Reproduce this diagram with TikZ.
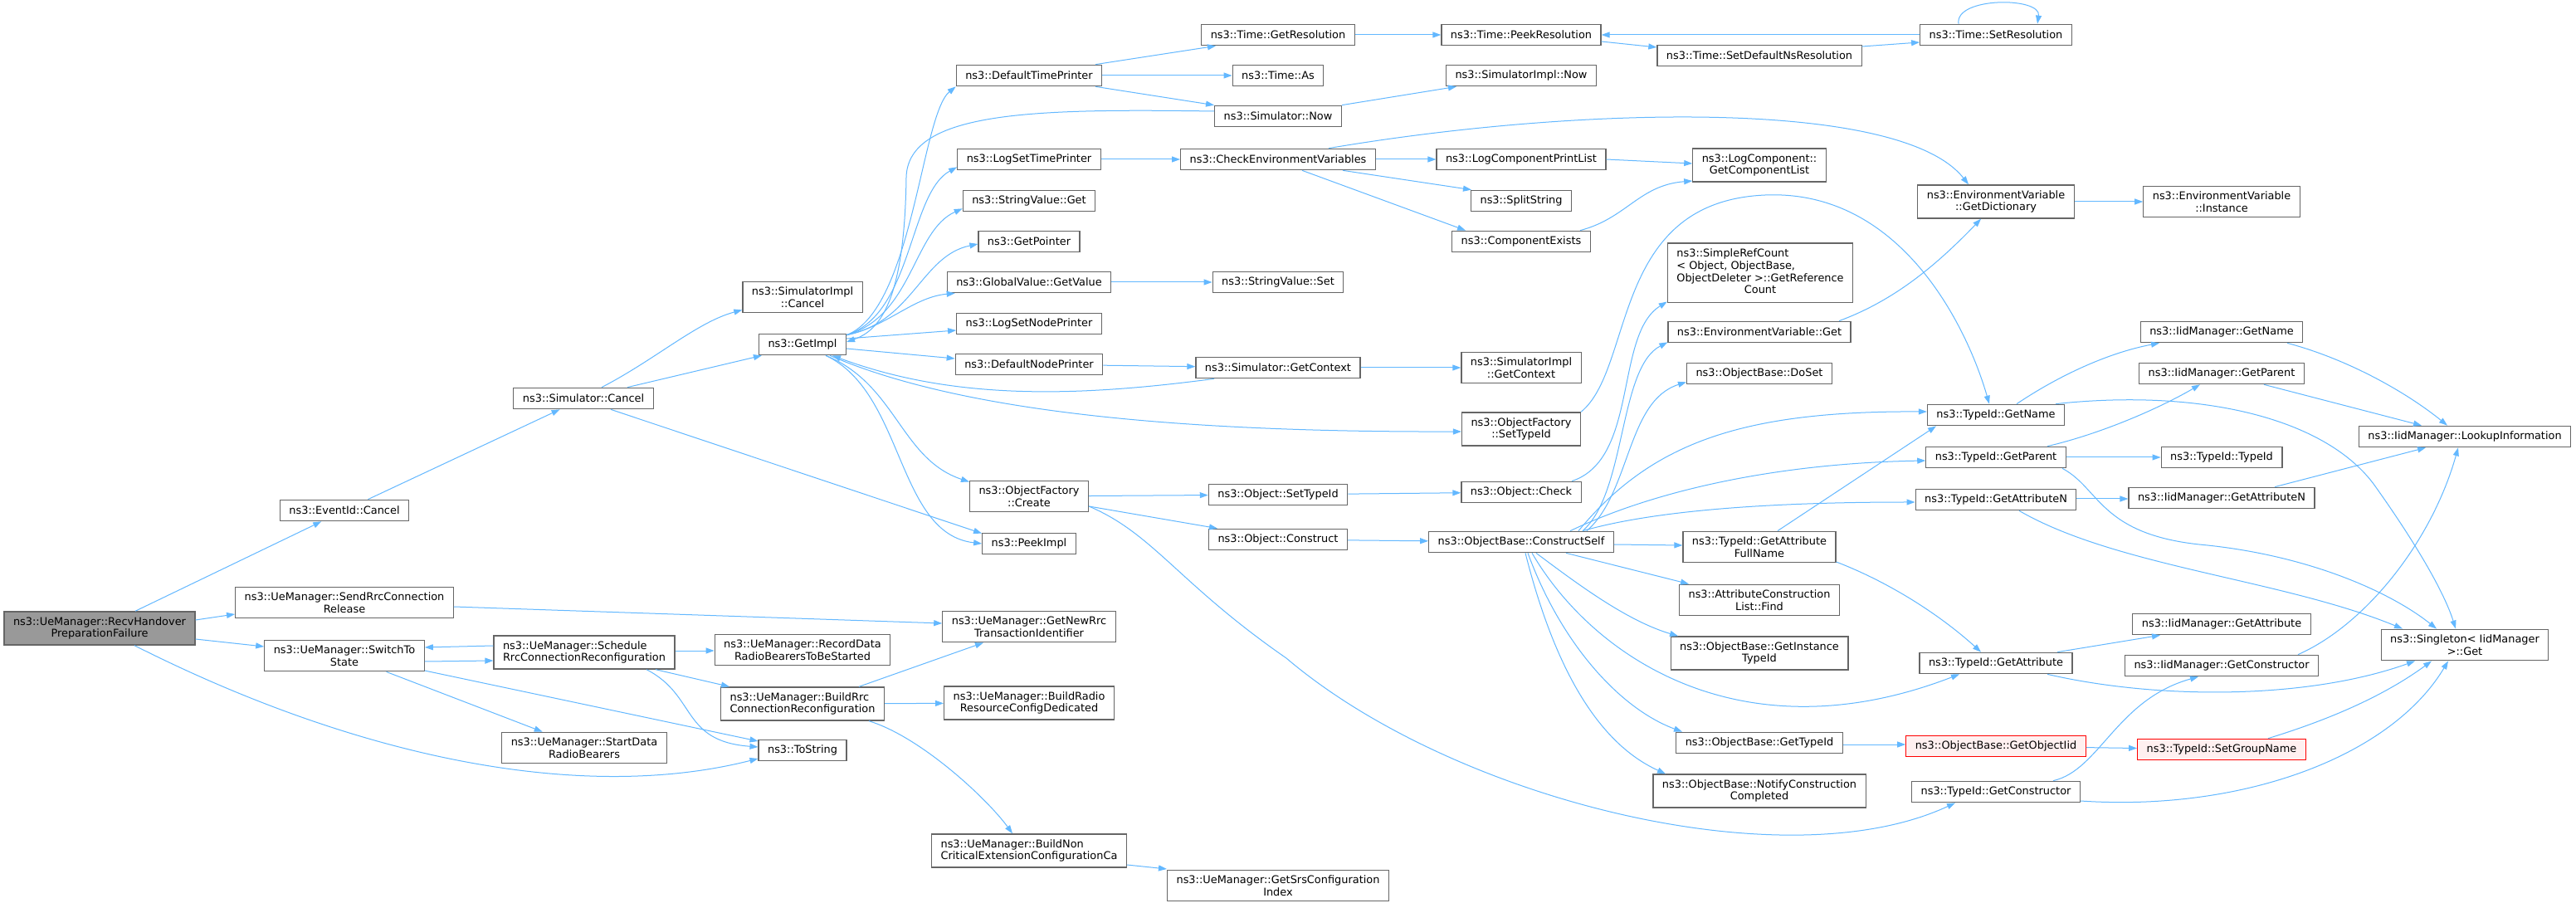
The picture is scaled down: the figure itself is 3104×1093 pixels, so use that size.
\documentclass[tikz,border=0pt]{standalone}
\usepackage{fontspec}
\setmainfont{DejaVu Sans}
\usetikzlibrary{arrows.meta}
\definecolor{callblue}{RGB}{99,184,255}
\definecolor{boxgray}{RGB}{102,102,102}
\definecolor{rootgray}{RGB}{153,153,153}
\definecolor{hotfill}{RGB}{255,240,240}

\begin{document}
\begin{tikzpicture}[x=1pt, y=1pt, font=\fontsize{12.9}{14.7}\selectfont,
  fn/.style={draw=boxgray, line width=1.2pt, fill=white, inner xsep=11pt, inner ysep=6.5pt, minimum height=25.5pt, align=center},
  rootfn/.style={fn, fill=rootgray},
  hotfn/.style={fn, draw=red, fill=hotfill},
  callarrow/.style={draw=callblue, line width=1pt, -{Triangle[length=10pt,width=7pt]}}]
  \fill[white] (0,0) rectangle (3104,1093);
  \useasboundingbox (0,0) rectangle (3104,1093);

  % Caller and UeManager side
  \node[rootfn] (recv) at (120,336) {ns3::UeManager::RecvHandover\\PreparationFailure};
  \node[fn] (evcancel) at (415,478) {ns3::EventId::Cancel};
  \node[fn] (sendrel) at (415,367) {ns3::UeManager::SendRrcConnection\\Release};
  \node[fn] (switchst) at (415,303) {ns3::UeManager::SwitchTo\\State};
  \node[fn] (simcancel) at (703,613) {ns3::Simulator::Cancel};
  \node[fn, align=left] (schedrrc) at (704,307) {ns3::UeManager::Schedule\\RrcConnectionReconfiguration};
  \node[fn] (startdrb) at (704,192) {ns3::UeManager::StartData\\RadioBearers};
  \node[fn] (implcancel) at (967,735) {ns3::SimulatorImpl\\::Cancel};
  \node[fn] (getimpl) at (967,678) {ns3::GetImpl};
  \node[fn] (recorddrb) at (967,310) {ns3::UeManager::RecordData\\RadioBearersToBeStarted};
  \node[fn, align=left] (buildrrc) at (967,245) {ns3::UeManager::BuildRrc\\ConnectionReconfiguration};
  \node[fn] (tostring) at (967,189) {ns3::ToString};

  % GetImpl callees
  \node[fn] (deftime) at (1240,1002) {ns3::DefaultTimePrinter};
  \node[fn] (logtime) at (1240,901) {ns3::LogSetTimePrinter};
  \node[fn] (strget) at (1240,851) {ns3::StringValue::Get};
  \node[fn] (getptr) at (1240,802) {ns3::GetPointer};
  \node[fn] (gvget) at (1240,753) {ns3::GlobalValue::GetValue};
  \node[fn] (lognode) at (1240,703) {ns3::LogSetNodePrinter};
  \node[fn] (defnode) at (1240,654) {ns3::DefaultNodePrinter};
  \node[fn] (ofcreate) at (1240,495) {ns3::ObjectFactory\\::Create};
  \node[fn] (peekimpl) at (1240,438) {ns3::PeekImpl};
  \node[fn] (newtid) at (1240,338) {ns3::UeManager::GetNewRrc\\TransactionIdentifier};
  \node[fn] (buildradio) at (1240,246) {ns3::UeManager::BuildRadio\\ResourceConfigDedicated};
  \node[fn, align=left] (buildnon) at (1240,68) {ns3::UeManager::BuildNon\\CriticalExtensionConfigurationCa};

  \node[fn] (getres) at (1540,1051) {ns3::Time::GetResolution};
  \node[fn] (timeas) at (1540,1002) {ns3::Time::As};
  \node[fn] (simnow) at (1540,953) {ns3::Simulator::Now};
  \node[fn] (checkenv) at (1540,901) {ns3::CheckEnvironmentVariables};
  \node[fn] (strset) at (1540,753) {ns3::StringValue::Set};
  \node[fn] (simctx) at (1540,650) {ns3::Simulator::GetContext};
  \node[fn] (objsettid) at (1540,497) {ns3::Object::SetTypeId};
  \node[fn] (objconstr) at (1540,443) {ns3::Object::Construct};
  \node[fn] (srsidx) at (1540,26) {ns3::UeManager::GetSrsConfiguration\\Index};

  \node[fn] (peekres) at (1833,1051) {ns3::Time::PeekResolution};
  \node[fn] (implnow) at (1833,1002) {ns3::SimulatorImpl::Now};
  \node[fn] (logprint) at (1833,901) {ns3::LogComponentPrintList};
  \node[fn] (split) at (1833,851) {ns3::SplitString};
  \node[fn] (compexists) at (1833,802) {ns3::ComponentExists};
  \node[fn] (implctx) at (1833,650) {ns3::SimulatorImpl\\::GetContext};
  \node[fn] (ofsettid) at (1833,576) {ns3::ObjectFactory\\::SetTypeId};
  \node[fn] (objcheck) at (1833,500) {ns3::Object::Check};
  \node[fn] (constrself) at (1833,440) {ns3::ObjectBase::ConstructSelf};

  % ObjectBase and environment
  \node[fn] (setdefns) at (2120,1026) {ns3::Time::SetDefaultNsResolution};
  \node[fn] (complist) at (2120,894) {ns3::LogComponent::\\GetComponentList};
  \node[fn] (refcount) at (2121,764) {\begin{tabular}{@{}c@{}}\multicolumn{1}{@{}l@{}}{ns3::SimpleRefCount}\\ \multicolumn{1}{@{}l@{}}{< Object, ObjectBase,}\\ ObjectDeleter >::GetReference\\ Count\end{tabular}};
  \node[fn] (envget) at (2120,693) {ns3::EnvironmentVariable::Get};
  \node[fn] (doset) at (2120,643) {ns3::ObjectBase::DoSet};
  \node[fn] (attrfull) at (2120,434) {ns3::TypeId::GetAttribute\\FullName};
  \node[fn] (attrfind) at (2120,370) {ns3::AttributeConstruction\\List::Find};
  \node[fn] (insttid) at (2120,306) {ns3::ObjectBase::GetInstance\\TypeId};
  \node[fn] (obgettid) at (2120,198) {ns3::ObjectBase::GetTypeId};
  \node[fn] (notify) at (2120,140) {ns3::ObjectBase::NotifyConstruction\\Completed};

  \node[fn] (setres) at (2405,1051) {ns3::Time::SetResolution};
  \node[fn] (getdict) at (2405,850) {ns3::EnvironmentVariable\\::GetDictionary};
  \node[fn] (tidname) at (2405,593) {ns3::TypeId::GetName};
  \node[fn] (tidparent) at (2405,542) {ns3::TypeId::GetParent};
  \node[fn] (tidattrn) at (2405,491) {ns3::TypeId::GetAttributeN};
  \node[fn] (tidattr) at (2405,294) {ns3::TypeId::GetAttribute};
  \node[hotfn] (objiid) at (2405,194) {ns3::ObjectBase::GetObjectIid};
  \node[fn] (tidctor) at (2405,139) {ns3::TypeId::GetConstructor};

  % IidManager side
  \node[fn] (envinst) at (2677,850) {ns3::EnvironmentVariable\\::Instance};
  \node[fn] (iidname) at (2677,693) {ns3::IidManager::GetName};
  \node[fn] (iidparent) at (2677,643) {ns3::IidManager::GetParent};
  \node[fn] (tidtid) at (2677,542) {ns3::TypeId::TypeId};
  \node[fn] (iidattrn) at (2677,493) {ns3::IidManager::GetAttributeN};
  \node[fn] (iidattr) at (2677,341) {ns3::IidManager::GetAttribute};
  \node[fn] (iidctor) at (2677,291) {ns3::IidManager::GetConstructor};
  \node[hotfn] (setgroup) at (2677,190) {ns3::TypeId::SetGroupName};
  \node[fn] (lookup) at (2970,567) {ns3::IidManager::LookupInformation};
  \node[fn] (singleton) at (2970,316) {ns3::Singleton< IidManager\\>::Get};

  % Calls from the caller
  \draw[callarrow] (recv) -- (evcancel);
  \draw[callarrow] ([yshift=10pt]recv.east) -- ([yshift=-14pt]sendrel.west);
  \draw[callarrow] ([yshift=-13pt]recv.east) -- ([yshift=11pt]switchst.west);
  \draw[callarrow] ([xshift=42pt]recv.south) .. controls (430,180) and (700,125) .. ([yshift=-10pt]tostring.west);
  \draw[callarrow] (evcancel) -- (simcancel);
  \draw[callarrow] ([xshift=22pt]simcancel.north) .. controls (790,660) and (840,705) .. ([yshift=4pt]implcancel.south west);
  \draw[callarrow] ([xshift=53pt]simcancel.north) -- ([xshift=4pt]getimpl.south west);
  \draw[callarrow] ([xshift=33pt]simcancel.south) -- ([yshift=-1pt]peekimpl.north west);

  % UeManager calls
  \draw[callarrow] ([yshift=-5pt]sendrel.east) -- ([yshift=4pt]newtid.west);
  \draw[callarrow] ([yshift=8pt]schedrrc.west) -- ([yshift=10pt]switchst.east);
  \draw[callarrow] ([yshift=-7pt]switchst.east) -- ([yshift=-10pt]schedrrc.west);
  \draw[callarrow] (switchst) -- (startdrb);
  \draw[callarrow] ([yshift=-18pt]switchst.east) -- ([yshift=11pt]tostring.west);
  \draw[callarrow] ([yshift=2pt]schedrrc.east) -- ([yshift=-1pt]recorddrb.west);
  \draw[callarrow] ([xshift=86pt]schedrrc.south) -- ([xshift=-88pt]buildrrc.north);
  \draw[callarrow] ([xshift=75pt]schedrrc.south) .. controls (840,255) and (820,200) .. ([yshift=4pt]tostring.west);
  \draw[callarrow] ([xshift=68pt]buildrrc.north) -- ([xshift=-55pt]newtid.south);
  \draw[callarrow] (buildrrc) -- (buildradio);
  \draw[callarrow] ([xshift=80pt]buildrrc.south) .. controls (1110,205) and (1190,130) .. ([xshift=-20pt]buildnon.north);
  \draw[callarrow] ([yshift=-17pt]buildnon.east) -- ([yshift=20pt]srsidx.west);

  % GetImpl fan
  \draw[callarrow] ([yshift=-2pt]getimpl.north east) .. controls (1100,720) and (1110,955) .. (deftime.south west);
  \draw[callarrow] ([yshift=-2pt]getimpl.north east) .. controls (1100,715) and (1095,860) .. ([yshift=4pt]logtime.south west);
  \draw[callarrow] ([yshift=-2pt]getimpl.north east) .. controls (1100,712) and (1100,815) .. ([yshift=4pt]strget.south west);
  \draw[callarrow] ([yshift=-2pt]getimpl.north east) .. controls (1100,705) and (1110,785) .. ([yshift=-3pt]getptr.west);
  \draw[callarrow] ([yshift=-2pt]getimpl.north east) .. controls (1070,700) and (1100,735) .. ([xshift=10pt]gvget.south west);
  \draw[callarrow] ([yshift=7pt]getimpl.east) -- ([yshift=-8pt]lognode.west);
  \draw[callarrow] ([yshift=-5pt]getimpl.east) -- ([yshift=7pt]defnode.west);
  \draw[callarrow] ([xshift=28pt]getimpl.south) .. controls (1080,630) and (1085,540) .. ([yshift=-2pt]ofcreate.north west);
  \draw[callarrow] ([xshift=28pt]getimpl.south) .. controls (1090,620) and (1080,450) .. (peekimpl.west);
  \draw[callarrow] ([xshift=33pt]getimpl.south) .. controls (1150,600) and (1400,572) .. ([yshift=-3pt]ofsettid.west);
  \draw[callarrow] ([yshift=6pt]simnow.west) .. controls (1250,962) and (1095,960) .. (1092,880) .. controls (1090,730) and (1060,695) .. ([yshift=3pt]getimpl.east);
  \draw[callarrow] ([xshift=-77pt]simctx.south) .. controls (1300,615) and (1150,610) .. ([xshift=36pt]getimpl.south);

  % Printers, time and log components
  \draw[callarrow] ([xshift=80pt]deftime.north) -- ([xshift=-75pt]getres.south);
  \draw[callarrow] (deftime) -- (timeas);
  \draw[callarrow] ([xshift=80pt]deftime.south) -- ([xshift=-77pt]simnow.north);
  \draw[callarrow] (simnow.north east) -- ([xshift=-78pt]implnow.south);
  \draw[callarrow] (getres) -- (peekres);
  \draw[callarrow] ([yshift=-8pt]peekres.east) -- ([yshift=10pt]setdefns.west);
  \draw[callarrow] ([yshift=11pt]setdefns.east) -- ([yshift=-9pt]setres.west);
  \draw[callarrow] (setres) -- (peekres);
  \draw[callarrow] ([xshift=-45pt]setres.north) .. controls (2355,1097) and (2460,1097) .. ([xshift=50pt]setres.north);
  \draw[callarrow] (logtime) -- (checkenv);
  \draw[callarrow] (checkenv) -- (logprint);
  \draw[callarrow] ([xshift=78pt]checkenv.south) -- ([xshift=-60pt]split.north);
  \draw[callarrow] ([xshift=29pt]checkenv.south) -- ([xshift=-67pt]compexists.north);
  \draw[callarrow] ([xshift=61pt]checkenv.north) .. controls (1900,965) and (2290,975) .. ([xshift=-33pt]getdict.north);
  \draw[callarrow] (logprint.east) -- ([yshift=2pt]complist.west);
  \draw[callarrow] ([xshift=71pt]compexists.north) .. controls (1960,830) and (1975,870) .. ([yshift=-19pt]complist.west);
  \draw[callarrow] (getdict) -- (envinst);
  \draw[callarrow] ([xshift=96pt]envget.north) .. controls (2280,730) and (2330,770) .. ([xshift=-18pt]getdict.south);
  \draw[callarrow] (gvget) -- (strset);
  \draw[callarrow] (defnode) -- (simctx);
  \draw[callarrow] (simctx) -- (implctx);

  % Object creation
  \draw[callarrow] (ofcreate) -- (objsettid);
  \draw[callarrow] ([yshift=-12pt]ofcreate.east) -- ([xshift=-73pt]objconstr.north);
  \draw[callarrow] ([yshift=-12pt]ofcreate.east) .. controls (1390,450) and (1420,390) .. (1550,300) .. controls (1750,130) and (2150,30) .. ([xshift=-49pt]tidctor.south);
  \draw[callarrow] (objsettid) -- (objcheck);
  \draw[callarrow] (objconstr) -- (constrself);
  \draw[callarrow] (ofsettid.north east) .. controls (1970,650) and (1940,850) .. (2127,858) .. controls (2290,865) and (2370,700) .. ([xshift=-8pt]tidname.north);
  \draw[callarrow] ([xshift=61pt]objcheck.north) .. controls (1975,540) and (1945,690) .. ([yshift=2pt]refcount.south west);

  % ConstructSelf fan
  \draw[callarrow] ([xshift=74pt]constrself.north) .. controls (1960,500) and (1950,650) .. ([yshift=1pt]envget.south west);
  \draw[callarrow] ([xshift=79pt]constrself.north) .. controls (1965,500) and (1960,610) .. ([yshift=3pt]doset.south west);
  \draw[callarrow] ([xshift=69pt]constrself.north) .. controls (1990,560) and (2100,598) .. ([yshift=4pt]tidname.west);
  \draw[callarrow] ([xshift=59pt]constrself.north) .. controls (2000,505) and (2150,535) .. ([yshift=-4pt]tidparent.west);
  \draw[callarrow] ([xshift=74pt]constrself.north) .. controls (2000,480) and (2150,488) .. ([yshift=-3pt]tidattrn.west);
  \draw[callarrow] ([yshift=-3pt]constrself.east) -- ([yshift=2pt]attrfull.west);
  \draw[callarrow] ([xshift=54pt]constrself.south) -- ([xshift=-85pt]attrfind.north);
  \draw[callarrow] ([xshift=18pt]constrself.south) .. controls (1900,390) and (1960,345) .. ([xshift=-98pt]insttid.north);
  \draw[callarrow] ([xshift=13pt]constrself.south) .. controls (1920,300) and (2100,180) .. ([xshift=-44pt]tidattr.south);
  \draw[callarrow] ([xshift=8pt]constrself.south) .. controls (1880,320) and (1950,240) .. ([xshift=-93pt]obgettid.north);
  \draw[callarrow] ([xshift=5pt]constrself.south) .. controls (1870,300) and (1920,200) .. ([xshift=-113pt]notify.north);
  \draw[callarrow] ([xshift=22pt]attrfull.north) -- ([xshift=-72pt]tidname.south);
  \draw[callarrow] ([yshift=-18pt]attrfull.east) .. controls (2280,390) and (2340,350) .. ([xshift=-18pt]tidattr.north);
  \draw[callarrow] ([yshift=-2pt]obgettid.east) -- ([yshift=2pt]objiid.west);
  \draw[callarrow] (objiid) -- (setgroup);

  % TypeId and IidManager
  \draw[callarrow] ([xshift=25pt]tidname.north) .. controls (2480,640) and (2540,668) .. ([xshift=-75pt]iidname.south);
  \draw[callarrow] ([xshift=72pt]tidname.north) .. controls (2650,625) and (2800,590) .. (2860,510) .. controls (2910,440) and (2945,380) .. ([xshift=-11pt]singleton.north);
  \draw[callarrow] ([xshift=62pt]tidparent.north) .. controls (2530,570) and (2600,600) .. ([xshift=-26pt]iidparent.south);
  \draw[callarrow] (tidparent) -- (tidtid);
  \draw[callarrow] ([xshift=80pt]tidparent.south) .. controls (2530,505) and (2530,450) .. (2650,437) .. controls (2780,425) and (2880,380) .. ([xshift=-34pt]singleton.north);
  \draw[callarrow] ([yshift=1pt]tidattrn.east) -- ([yshift=-1pt]iidattrn.west);
  \draw[callarrow] ([xshift=28pt]tidattrn.south) .. controls (2550,410) and (2750,395) .. ([xshift=-75pt]singleton.north);
  \draw[callarrow] ([xshift=79pt]iidname.south) .. controls (2830,660) and (2900,620) .. ([xshift=-21pt]lookup.north);
  \draw[callarrow] ([xshift=51pt]iidparent.south) -- ([xshift=-52pt]lookup.north);
  \draw[callarrow] ([xshift=64pt]iidattrn.north) -- ([xshift=-47pt]lookup.south);
  \draw[callarrow] ([xshift=92pt]iidctor.north) .. controls (2850,340) and (2930,440) .. ([xshift=-8pt]lookup.south);
  \draw[callarrow] ([xshift=74pt]tidattr.north) -- ([xshift=-74pt]iidattr.south);
  \draw[callarrow] ([xshift=62pt]tidattr.south) .. controls (2600,250) and (2780,250) .. ([xshift=-60pt]singleton.south);
  \draw[callarrow] ([xshift=69pt]tidctor.north) .. controls (2530,165) and (2550,250) .. ([xshift=-28pt]iidctor.south);
  \draw[callarrow] ([yshift=-11pt]tidctor.east) .. controls (2700,115) and (2880,180) .. ([xshift=-20pt]singleton.south);
  \draw[callarrow] ([xshift=56pt]setgroup.north) .. controls (2820,230) and (2880,260) .. ([xshift=-40pt]singleton.south);
\end{tikzpicture}
\end{document}
